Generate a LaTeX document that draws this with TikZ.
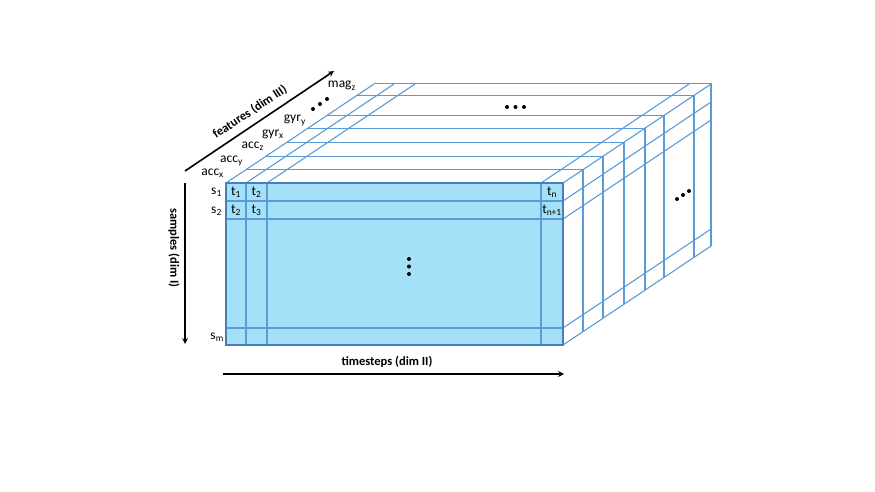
\documentclass[tikz,border=0pt]{standalone}
\usepackage{fontspec}
\setmainfont{Carlito}
\definecolor{cellfill}{HTML}{A4E1F9}
\definecolor{gridblue}{HTML}{5B9BD5}
\definecolor{rimblue}{HTML}{4A7EBB}

\begin{document}
\begin{tikzpicture}[x=1pt, y=-1pt, >=stealth,
    grid/.style={gridblue, line width=1.1pt},
    lbl/.style={inner sep=0pt, font=\fontsize{13.5}{14}\selectfont},
    axislbl/.style={inner sep=0pt, font=\bfseries\fontsize{12.5}{13}\selectfont},
    axisline/.style={->, line width=1.6pt}]
    \useasboundingbox (0,0) rectangle (875,492);

    % slices behind the front one
    \foreach \d in {20,40,61,82,101,131,148}
        \draw[grid] ({226+\d},{183-0.67*\d}) -- ({563+\d},{183-0.67*\d})
            -- ({563+\d},{345-0.67*\d});
    \foreach \x in {226,246,267,541,563}
        \draw[grid] (\x,183) -- ++(148,-99);
    \foreach \y in {201,219,328,345}
        \draw[grid] (563,\y) -- ++(148,-99);

    % front slice
    \draw[rimblue, fill=cellfill, line width=1.2pt] (226,183) rectangle (563,345);
    \foreach \x in {246,267,541}
        \draw[grid] (\x,184) -- (\x,344);
    \foreach \y in {201,219,328}
        \draw[grid] (227,\y) -- (562,\y);

    \node[lbl] (t1a) at (236,192) {t\textsubscript{1}};
    \node[lbl] (t2a) at (256.5,192) {t\textsubscript{2}};
    \node[lbl] (tn) at (552,192) {t\textsubscript{n}};
    \node[lbl] (t2b) at (236,210) {t\textsubscript{2}};
    \node[lbl] (t3) at (256.5,210) {t\textsubscript{3}};
    \node[lbl] (tn1) at (552,210) {t\textsubscript{n+1}};

    \node[lbl, anchor=east] (s1) at (222,192) {s\textsubscript{1}};
    \node[lbl, anchor=east] (s2) at (222,211) {s\textsubscript{2}};
    \node[lbl, anchor=east] (sm) at (224,337) {s\textsubscript{m}};

    \node[lbl, anchor=base east] (accx) at (224,175) {acc\textsubscript{x}};
    \node[lbl, anchor=base east] (accy) at (243,162) {acc\textsubscript{y}};
    \node[lbl, anchor=base east] (accz) at (264,148) {acc\textsubscript{z}};
    \node[lbl, anchor=base east] (gyrx) at (284,136) {gyr\textsubscript{x}};
    \node[lbl, anchor=base east] (gyry) at (306,122) {gyr\textsubscript{y}};
    \node[lbl, anchor=base east] (magz) at (356,88) {mag\textsubscript{z}};

    % dots
    \foreach \p in {(313,109),(320,104),(327,99),
                    (507,107),(515.5,107),(524,107),
                    (677,199),(683,195),(689,191),
                    (409,259),(409,266.5),(409,274)}
        \fill \p circle (2);

    % axes
    \coordinate (sTop) at (185,183);
    \coordinate (sEnd) at (185,344);
    \coordinate (tStart) at (223,374);
    \coordinate (tEnd) at (564,374);
    \coordinate (fStart) at (185,171);
    \coordinate (fEnd) at (334,71);
    \draw[axisline] (sTop) -- (sEnd);
    \draw[axisline] (tStart) -- (tEnd);
    \draw[axisline] (fStart) -- (fEnd);

    \node[axislbl, rotate=-90] (samples) at (174,248) {samples (dim I)};
    \node[axislbl] (timesteps) at (387,362) {timesteps (dim II)};
    \node[axislbl, rotate=33.7] (features) at (250,112) {features (dim III)};
\end{tikzpicture}
\end{document}
